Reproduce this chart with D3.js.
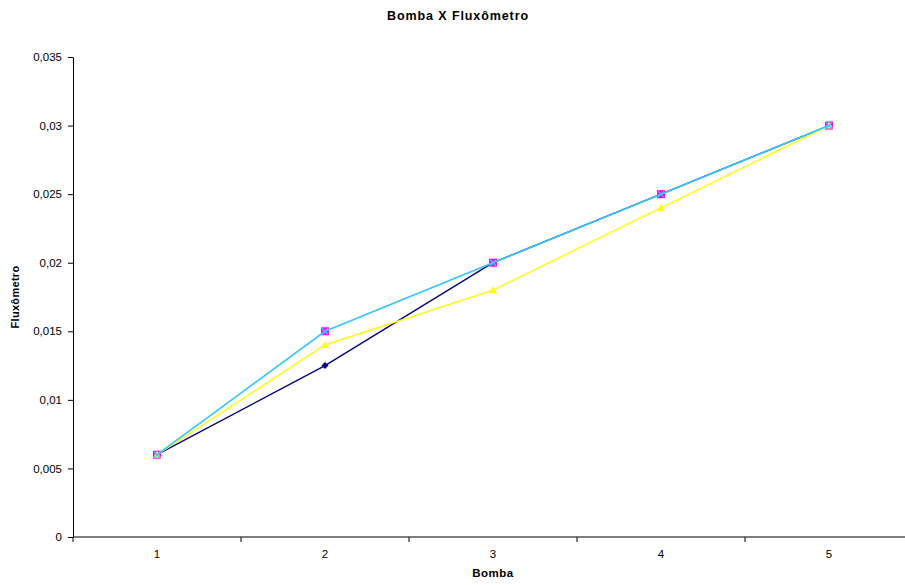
<!DOCTYPE html>
<html><head><meta charset="utf-8">
<script src="https://cdn.jsdelivr.net/npm/d3@7"></script>
<style>body{margin:0;background:#fff;overflow:hidden}svg{display:block;font-family:"Liberation Sans",Arial,sans-serif}</style>
</head><body><svg id="c" width="905" height="585"></svg>
<script>
const categories = ["1","2","3","4","5"];
const seriesNavy = [0.006, 0.0125, 0.02, 0.025, 0.03];
const seriesMagenta = [0.006, 0.015, 0.02, 0.025, 0.03];
const seriesYellow = [0.006, 0.014, 0.018, 0.024, 0.03];
const seriesCyan = [0.006, 0.015, 0.02, 0.025, 0.03];
const yTicks = [0, 0.005, 0.01, 0.015, 0.02, 0.025, 0.03, 0.035];

const svg = d3.select("#c");
const m = {l:73, r:913, t:57, b:537};
const x = d3.scaleBand().domain(categories).range([m.l, m.r]).padding(0);
const y = d3.scaleLinear().domain([0, 0.035]).range([m.b, m.t]);
const fmt = d => d === 0 ? "0" : String(+d.toFixed(3)).replace(".", ",");

svg.append("text").attr("x", 458).attr("y", 20).attr("text-anchor","middle")
  .attr("font-size", 12.5).attr("font-weight","bold").attr("letter-spacing", 0.9).text("Bomba X Fluxômetro");

const ya = svg.append("g").attr("transform", `translate(${m.l},0)`)
  .call(d3.axisLeft(y).tickValues(yTicks).tickFormat(fmt).tickSize(5).tickPadding(6).tickSizeOuter(0));
ya.selectAll("text").attr("font-size", 11.5).attr("font-family","Liberation Sans, Arial").attr("fill","#000");
ya.selectAll("line,path").attr("stroke","#000");

const xa = svg.append("g").attr("transform", `translate(0,${m.b})`);
xa.append("line").attr("x1", m.l).attr("x2", m.r).attr("stroke","#000");
const bounds = categories.map(c => x(c)).concat([x(categories[categories.length-1]) + x.bandwidth()]);
xa.selectAll("line.t").data(bounds).enter().append("line").attr("class","t")
  .attr("x1", d=>d).attr("x2", d=>d).attr("y1", 0).attr("y2", 5).attr("stroke","#000");
xa.selectAll("text").data(categories).enter().append("text")
  .attr("x", d => x(d) + x.bandwidth()/2).attr("y", 21).attr("text-anchor","middle")
  .attr("font-size", 11.5).text(d => d);

svg.append("text").attr("x", 493).attr("y", 577).attr("text-anchor","middle")
  .attr("font-size", 11.5).attr("font-weight","bold").attr("letter-spacing", 0.5).text("Bomba");
svg.append("text").attr("transform","translate(19,297) rotate(-90)").attr("text-anchor","middle")
  .attr("font-size", 11).attr("font-weight","bold").attr("letter-spacing", 0.3).text("Fluxômetro");

const cx = c => x(c) + x.bandwidth()/2;
const line = d3.line().x((d,i) => cx(categories[i])).y(d => y(d));
function drawSeries(vals, color, marker, w) {
  svg.append("path").attr("d", line(vals)).attr("fill","none").attr("stroke", color).attr("stroke-width", w);
  const g = svg.append("g");
  vals.forEach((v,i) => {
    const px = cx(categories[i]), py = y(v);
    if (marker === "diamond") {
      g.append("path").attr("d", `M${px},${py-3.5}L${px+3.5},${py}L${px},${py+3.5}L${px-3.5},${py}Z`).attr("fill", color);
    } else if (marker === "square") {
      g.append("rect").attr("x", px-4).attr("y", py-4).attr("width",8).attr("height",8)
        .attr("fill", color);
    } else if (marker === "triangle") {
      g.append("path").attr("d", `M${px},${py-4}L${px+4},${py+3}L${px-4},${py+3}Z`).attr("fill", color);
    } else if (marker === "x") {
      g.append("path").attr("d", `M${px-3},${py-3}L${px+3},${py+3}M${px+3},${py-3}L${px-3},${py+3}`)
        .attr("stroke", color).attr("stroke-width",1.3);
    }
  });
}
drawSeries(seriesNavy, "#000080", "diamond", 1.4);
drawSeries(seriesMagenta, "#ff00ff", "square", 0.6);
drawSeries(seriesYellow, "#ffff00", "triangle", 1.4);
drawSeries(seriesCyan, "#33ccff", "x", 1.6);
</script></body></html>
